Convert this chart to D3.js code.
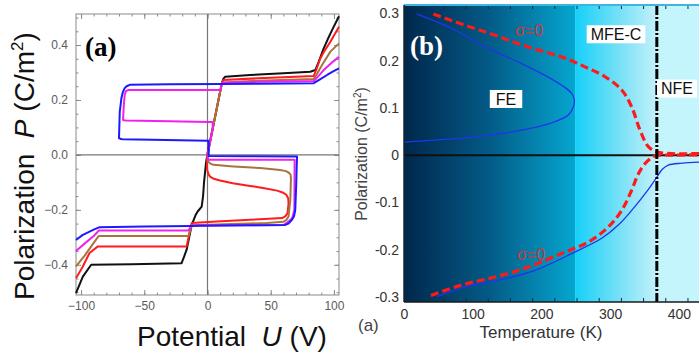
<!DOCTYPE html>
<html>
<head>
<meta charset="utf-8">
<script src="https://cdn.jsdelivr.net/npm/d3@7"></script>
<style>
  body { margin: 0; background: #fff; }
  svg { display: block; font-family: "Liberation Sans", Arial, sans-serif; }
</style>
</head>
<body>
<div id="chart"></div>
<script>
// ---- panel (a): P-U loops, points are [U (V), P (C/m2)]
var loopBlack = [[-104,-0.503],[-98.6,-0.443],[-92,-0.40],[-60,-0.398],[-20.5,-0.394],[-18.5,-0.37],[-16.5,-0.345],
  [-12.5,-0.255],[-9.5,-0.22],[-7.8,-0.206],[-4.6,-0.188],[-3.5,-0.15],[-2.8,-0.103],[-1.2,-0.03],[0,0.005],
  [5.5,0.127],[11.3,0.26],[12.5,0.277],[14,0.285],[33.7,0.291],[60,0.297],[81.3,0.303],[85.3,0.309],[88,0.34],
  [91.9,0.388],[95,0.42],[98.6,0.455],[104,0.505]];
var loopRed = [[104,0.467],[97.2,0.412],[92,0.375],[89.3,0.352],[86,0.31],[84,0.287],[60,0.283],[40,0.279],
  [12.5,0.273],[11.3,0.26],[5.6,0.13],[0,0],[-0.4,-0.03],[-0.2,-0.055],[0.8,-0.07],[2,-0.079],[5,-0.087],
  [9.9,-0.093],[20,-0.103],[33.7,-0.113],[45,-0.121],[55,-0.13],[60,-0.138],[62.3,-0.145],[63.8,-0.158],
  [64.1,-0.176],[63.3,-0.212],[61.5,-0.224],[58.9,-0.23],[45,-0.233],[33.7,-0.236],[7.3,-0.242],[-6,-0.246],
  [-12.5,-0.248],[-14.5,-0.29],[-16.5,-0.333],[-50,-0.333],[-86.7,-0.333],[-93.3,-0.357],[-98.6,-0.406],[-104,-0.449]];
var loopBrown = [[104,0.406],[97.2,0.376],[90.6,0.327],[86,0.29],[84,0.276],[40,0.27],[12.5,0.264],[11.3,0.26],
  [5.6,0.13],[0,0],[0.2,-0.015],[0.6,-0.024],[2,-0.031],[4.6,-0.036],[20.5,-0.042],[41.7,-0.048],[57.5,-0.055],
  [62,-0.059],[64.1,-0.064],[65.7,-0.072],[66,-0.085],[65.5,-0.164],[64.1,-0.224],[62.5,-0.236],[60.2,-0.243],
  [47,-0.248],[-6,-0.255],[-12.5,-0.256],[-14,-0.28],[-15,-0.295],[-50,-0.295],[-86,-0.295],[-90,-0.32],
  [-97,-0.366],[-104,-0.406]];
var loopMagenta = [[104,0.357],[98,0.335],[91.9,0.309],[86,0.278],[84,0.269],[40,0.266],[12,0.263],[11.3,0.26],
  [10.3,0.236],[-40,0.236],[-62.8,0.236],[-64.5,0.232],[-65.5,0.218],[-66.2,0.18],[-66.8,0.127],[-65,0.125],
  [-30,0.123],[0.6,0.12],[4.1,0.12],[4.1,0.094],[0,0],[0.5,-0.016],[1.5,-0.018],[40,-0.018],[68.9,-0.018],
  [68.8,-0.1],[68.7,-0.2],[67,-0.23],[64.1,-0.242],[60.2,-0.255],[30,-0.256],[-6,-0.257],[-12.5,-0.258],
  [-15.2,-0.275],[-50,-0.275],[-85.9,-0.275],[-90,-0.295],[-97,-0.322],[-104,-0.35]];
var loopBlue = [[104,0.315],[99,0.303],[94.6,0.291],[88,0.272],[84,0.261],[40,0.259],[11.3,0.258],[-30,0.257],
  [-61.5,0.255],[-64,0.25],[-65.5,0.243],[-67,0.228],[-68.1,0.206],[-69.4,0.157],[-70,0.061],[-68.5,0.058],
  [-66.8,0.057],[0.6,0.052],[0.8,0.052],[1,-0.004],[30,-0.005],[70.8,-0.006],[70.5,-0.05],[70.2,-0.103],
  [69.4,-0.2],[68.5,-0.222],[66.8,-0.236],[64,-0.25],[61.5,-0.255],[30,-0.256],[-6,-0.258],[-12.5,-0.259],
  [-50,-0.261],[-85.3,-0.263],[-90,-0.272],[-98.6,-0.291],[-104,-0.31]];
var uTicks = [-100, -50, 0, 50, 100];
var pTicksA = [-0.4, -0.2, 0, 0.2, 0.4];

// ---- panel (b): P-T curves, points are [T (K), P (C/m2)]
var feUpper = [[18.5,0.299],[74.2,0.265],[122.7,0.226],[171.3,0.194],[205.2,0.169],[229.5,0.148],[244,0.131],
  [247.9,0.117],[246.5,0.102],[239.2,0.085],[219.8,0.071],[185.9,0.057],[122.7,0.042],[74.2,0.035],[6.3,0.028],[0,0.027]];
var feLower = [[49,-0.299],[88.8,-0.279],[137.3,-0.265],[190.7,-0.244],[248.9,-0.205],[287.8,-0.176],[311.9,-0.148],
  [331.4,-0.117],[354.9,-0.074],[367.8,-0.047],[376,-0.03],[384.7,-0.021],[405,-0.017],[440,-0.014]];
var sigmaUpper = [[42.7,0.299],[88.8,0.275],[132.5,0.254],[180.9,0.229],[229.5,0.208],[263.5,0.187],[292.6,0.166],
  [316.9,0.138],[331.4,0.102],[343.5,0.053],[355.6,0.018],[367.8,0.007],[394.5,0.003],[440,0.004]];
var sigmaLower = [[39.3,-0.297],[84,-0.275],[132.5,-0.258],[180.9,-0.237],[229.5,-0.208],[268.3,-0.184],[297.4,-0.152],
  [316.9,-0.117],[331.4,-0.074],[341,-0.04],[350.8,-0.018],[365.4,-0.002],[395,0],[440,0.001]];
var phaseEdges = [0, 249, 368, 440];     // FE | MFE-C | NFE
var tTicks = [0, 100, 200, 300, 400];
var pTicksB = [-0.3, -0.2, -0.1, 0, 0.1, 0.2, 0.3];

var svg = d3.select("#chart").append("svg")
    .attr("width", 699)
    .attr("height", 356);

// ================= panel (a)
var xa = d3.scaleLinear().domain([-104, 104]).range([76, 339]);
var ya = d3.scaleLinear().domain([-0.51, 0.513]).range([295, 14]);
var ga = svg.append("g");

function inside(g, axis, tr, vals, size, fmt, pad) {
    var a = g.append("g").attr("transform", tr)
        .call(axis.tickValues(vals).tickSize(size).tickPadding(pad || 3).tickFormat(fmt));
    a.select(".domain").remove();
    a.selectAll("line").attr("stroke", "#8a8a8a");
    a.selectAll("text").attr("fill", "#5a5a5a").style("font-size", "12px")
        .style("font-family", "Liberation Sans, Arial, sans-serif");
    return a;
}
var uMinor = d3.range(-100, 101, 10);
var pMinor = d3.range(-0.5, 0.51, 0.05);
var f1 = d3.format(".1f");
inside(ga, d3.axisBottom(xa), "translate(0,295)", uMinor, -2.5, "");
inside(ga, d3.axisBottom(xa), "translate(0,295)", uTicks, -5, d3.format("d"), 6);
inside(ga, d3.axisTop(xa), "translate(0,14)", uMinor, -2.5, "");
inside(ga, d3.axisTop(xa), "translate(0,14)", uTicks, -5, "");
inside(ga, d3.axisLeft(ya), "translate(76,0)", pMinor, -2.5, "");
inside(ga, d3.axisLeft(ya), "translate(76,0)", pTicksA, -5, f1, 8);
inside(ga, d3.axisRight(ya), "translate(339,0)", pMinor, -2.5, "");
inside(ga, d3.axisRight(ya), "translate(339,0)", pTicksA, -5, "");

ga.append("rect").attr("x", 76).attr("y", 14).attr("width", 263).attr("height", 281)
    .attr("fill", "none").attr("stroke", "#8a8a8a");
ga.append("line").attr("x1", xa(0)).attr("x2", xa(0)).attr("y1", 14).attr("y2", 295)
    .attr("stroke", "#777").attr("stroke-width", 1.2);
ga.append("line").attr("x1", 76).attr("x2", 339).attr("y1", ya(0)).attr("y2", ya(0))
    .attr("stroke", "#777").attr("stroke-width", 1.2);

var lineA = d3.line().x(function(d) { return xa(d[0]); }).y(function(d) { return ya(d[1]); });
var loops = [[loopBlack, "#111"], [loopRed, "#ff1c1c"], [loopBrown, "#a8743c"],
             [loopMagenta, "#f020f0"], [loopBlue, "#1a1aff"]];
loops.forEach(function(l) {
    ga.append("path").attr("d", lineA(l[0])).attr("fill", "none")
        .attr("stroke", l[1]).attr("stroke-width", 2).attr("stroke-linejoin", "round");
});

ga.append("text").attr("x", 85).attr("y", 56).text("(a)")
    .style("font-family", "Liberation Serif, Times New Roman, serif")
    .style("font-weight", "bold").style("font-size", "27px");

var ytA = ga.append("text").attr("transform", "translate(34,300) rotate(-90)")
    .style("font-size", "28px").attr("fill", "#111");
ytA.append("tspan").text("Polarization\u00a0\u00a0");
ytA.append("tspan").style("font-style", "italic").text("P");
ytA.append("tspan").text(" (C/m");
ytA.append("tspan").attr("dy", -11).style("font-size", "17px").text("2");
ytA.append("tspan").attr("dy", 11).text(")");

var xtA = ga.append("text").attr("x", 232).attr("y", 346).attr("text-anchor", "middle")
    .style("font-size", "28px").attr("fill", "#111");
xtA.append("tspan").text("Potential\u00a0\u00a0");
xtA.append("tspan").style("font-style", "italic").text("U");
xtA.append("tspan").text(" (V)");

// ================= panel (b)
var xb = d3.scaleLinear().domain([0, 440]).range([404, 706.3]);
var yb = d3.scaleLinear().domain([-0.311, 0.318]).range([302, 5]);
var gb = svg.append("g");
var defs = svg.append("defs");

function grad(id, x1, x2, stops) {
    var g = defs.append("linearGradient").attr("id", id)
        .attr("gradientUnits", "userSpaceOnUse")
        .attr("x1", x1).attr("x2", x2).attr("y1", 0).attr("y2", 0);
    stops.forEach(function(s) {
        g.append("stop").attr("offset", s[0]).attr("stop-color", s[1]);
    });
}
grad("gFE", xb(phaseEdges[0]), xb(phaseEdges[1]),
     [[0, "#01274c"], [0.5, "#035b87"], [1, "#05a6cf"]]);
grad("gMFE", xb(phaseEdges[1]), xb(phaseEdges[2]),
     [[0, "#16d0f8"], [0.5, "#6fdff7"], [1, "#c4f1fa"]]);
var fills = ["url(#gFE)", "url(#gMFE)", "#c4f5fc"];
for (var i = 0; i < 3; i++) {
    gb.append("rect").attr("x", xb(phaseEdges[i])).attr("y", 5)
        .attr("width", xb(phaseEdges[i + 1]) - xb(phaseEdges[i])).attr("height", 297)
        .attr("fill", fills[i]);
}

gb.append("line").attr("x1", 404).attr("x2", 699).attr("y1", yb(0)).attr("y2", yb(0))
    .attr("stroke", "#111").attr("stroke-width", 2);

var lineB = d3.line().x(function(d) { return xb(d[0]); }).y(function(d) { return yb(d[1]); })
    .curve(d3.curveCatmullRom.alpha(0.5));
[feUpper, feLower].forEach(function(s) {
    gb.append("path").attr("d", lineB(s)).attr("fill", "none")
        .attr("stroke", "#1f35ee").attr("stroke-width", 1.3);
});
[sigmaUpper, sigmaLower].forEach(function(s) {
    gb.append("path").attr("d", lineB(s)).attr("fill", "none")
        .attr("stroke", "#ff1a1a").attr("stroke-width", 3.2).attr("stroke-dasharray", "8,4");
});

gb.append("line").attr("x1", xb(phaseEdges[2])).attr("x2", xb(phaseEdges[2]))
    .attr("y1", 5).attr("y2", 302)
    .attr("stroke", "#000").attr("stroke-width", 3).attr("stroke-dasharray", "10,2,2,2");

// axes of (b)
var tMinor = d3.range(25, 440, 32.3);
var ax = gb.append("g").attr("transform", "translate(0,5)")
    .call(d3.axisTop(xb).tickValues(tMinor).tickSize(-4).tickFormat(""));
ax.select(".domain").remove();
ax.selectAll("line").attr("stroke", "#1a2a38");
ax = gb.append("g").attr("transform", "translate(0,302)")
    .call(d3.axisBottom(xb).tickValues(tMinor).tickSize(-4).tickFormat(""));
ax.select(".domain").remove();
ax.selectAll("line").attr("stroke", "#1a2a38");

ax = gb.append("g").attr("transform", "translate(0,302)")
    .call(d3.axisBottom(xb).tickValues(tTicks).tickSize(0).tickPadding(7));
ax.select(".domain").remove();
ax.selectAll("text").attr("fill", "#333").style("font-size", "14px")
    .style("font-family", "Liberation Sans, Arial, sans-serif");

ax = gb.append("g").attr("transform", "translate(404,0)")
    .call(d3.axisLeft(yb).tickValues(pTicksB).tickSize(0).tickPadding(5)
        .tickFormat(function(d) { return String(d); }));
ax.select(".domain").remove();
ax.selectAll("text").attr("fill", "#333").style("font-size", "14px")
    .style("font-family", "Liberation Sans, Arial, sans-serif");

gb.append("line").attr("x1", 404).attr("x2", 699).attr("y1", 5).attr("y2", 5)
    .attr("stroke", "#3cb6de").attr("stroke-width", 2);
gb.append("line").attr("x1", 404).attr("x2", 699).attr("y1", 302).attr("y2", 302)
    .attr("stroke", "#1a1a1a").attr("stroke-width", 1.5);
gb.append("line").attr("x1", 404).attr("x2", 404).attr("y1", 5).attr("y2", 302)
    .attr("stroke", "#1a2530").attr("stroke-width", 1.5);

// annotations
function boxLabel(txt, t, p, pad) {
    var tx = gb.append("text").attr("x", xb(t)).attr("y", yb(p)).attr("dy", "0.35em")
        .attr("text-anchor", "middle").style("font-size", "16px").attr("fill", "#111").text(txt);
    var bb = tx.node().getBBox();
    gb.insert("rect", function() { return tx.node(); })
        .attr("x", bb.x - pad).attr("y", yb(p) - 9).attr("width", bb.width + 2 * pad).attr("height", 18)
        .attr("fill", "#fff");
}
boxLabel("FE", 148.5, 0.119, 6);
boxLabel("MFE-C", 308.6, 0.256, 4);
boxLabel("NFE", 397.4, 0.141, 4);

[[182, 0.265], [185, -0.211]].forEach(function(s) {
    gb.append("text").attr("x", xb(s[0])).attr("y", yb(s[1])).attr("dy", "0.35em")
        .attr("text-anchor", "middle").style("font-size", "16px").attr("fill", "#c9393d").text("\u03c3=0");
});

gb.append("text").attr("x", 410).attr("y", 55).text("(b)").attr("fill", "#fff")
    .style("font-family", "Liberation Serif, Times New Roman, serif")
    .style("font-weight", "bold").style("font-size", "27px");

var ytB = gb.append("text").attr("transform", "translate(367,154) rotate(-90)")
    .attr("text-anchor", "middle").style("font-size", "16px").attr("fill", "#444");
ytB.append("tspan").text("Polarization (C/m");
ytB.append("tspan").attr("dy", -6).style("font-size", "10px").text("2");
ytB.append("tspan").attr("dy", 6).text(")");

gb.append("text").attr("x", 541).attr("y", 338).attr("text-anchor", "middle")
    .style("font-size", "17px").attr("fill", "#333").text("Temperature (K)");
gb.append("text").attr("x", 358).attr("y", 331)
    .style("font-size", "17px").attr("fill", "#444").text("(a)");
</script>
</body>
</html>
